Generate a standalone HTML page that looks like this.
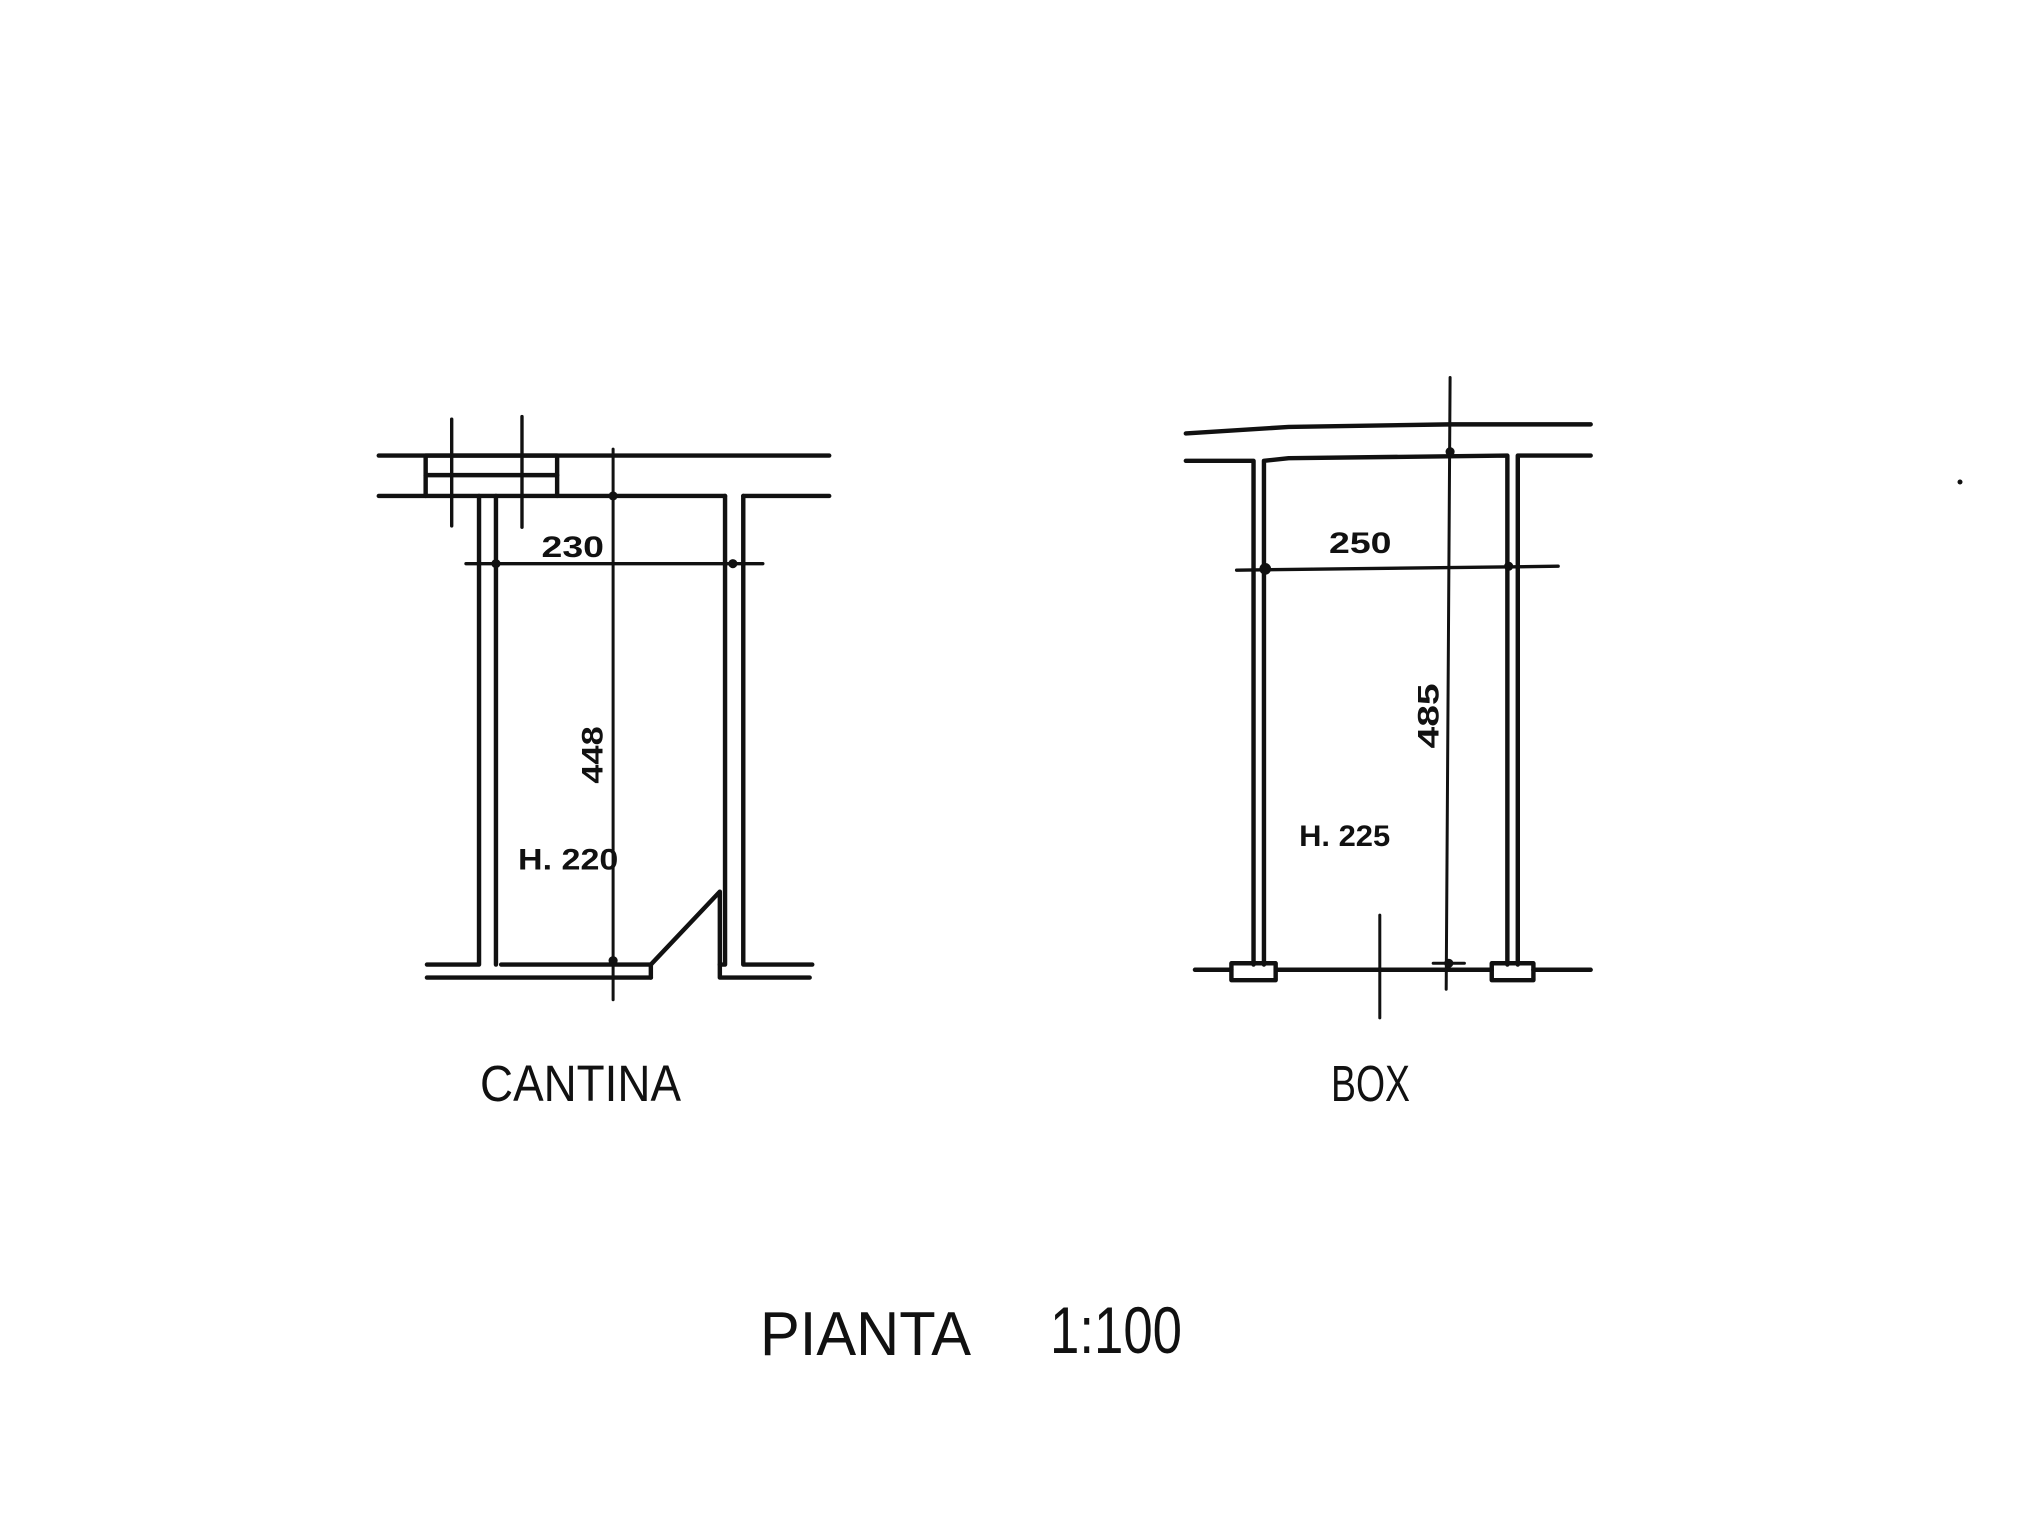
<!DOCTYPE html>
<html><head><meta charset="utf-8"><style>
html,body{margin:0;padding:0;background:#fff;}
svg{display:block;}
text{font-family:"Liberation Sans",sans-serif;fill:#111;}
</style></head><body>
<svg width="2041" height="1535" viewBox="0 0 2041 1535" xmlns="http://www.w3.org/2000/svg">
<g transform="scale(1.3017)">
<g stroke="#111" stroke-width="3.4" fill="none" stroke-linecap="round" stroke-linejoin="round">
<!-- CANTINA -->
<line x1="291" y1="350" x2="637" y2="350"/>
<line x1="291" y1="381" x2="327" y2="381"/>
<line x1="428" y1="381" x2="557" y2="381"/>
<line x1="571" y1="381" x2="637" y2="381"/>
<rect x="327" y="350" width="101" height="31"/>
<line x1="327" y1="365" x2="428" y2="365"/>
<line x1="347" y1="322" x2="347" y2="404" stroke-width="2.6"/>
<line x1="401" y1="320" x2="401" y2="405" stroke-width="2.6"/>
<polyline points="368,381 368,741 328,741"/>
<line x1="381" y1="381" x2="381" y2="741"/>
<line x1="328" y1="751" x2="500" y2="751"/>
<polyline points="385,741 500,741 500,751"/>
<polyline points="500,741 553,685 553,751 622,751"/>
<polyline points="557,381 557,741 553,741"/>
<polyline points="571,381 571,741 624,741"/>
<line x1="471" y1="345" x2="471" y2="768" stroke-width="2.3"/>
<line x1="358" y1="433" x2="586" y2="433" stroke-width="2.6"/>
<!-- BOX -->
<path d="M911,333 Q960,330 990,328 L1114,326 L1222,326"/>
<polyline points="911,354 963,354 963,741"/>
<path d="M971,741 L971,354 L990,352 L1158,350 L1158,741"/>
<polyline points="1166,741 1166,350 1222,350"/>
<line x1="918" y1="745" x2="946" y2="745"/>
<line x1="980" y1="745" x2="1146" y2="745"/>
<line x1="1178" y1="745" x2="1222" y2="745"/>
<rect x="946" y="740" width="34" height="13"/>
<rect x="1146" y="740" width="32" height="13"/>
<line x1="1114" y1="290" x2="1111" y2="760" stroke-width="2.3"/>
<line x1="950" y1="438" x2="1197" y2="435" stroke-width="2.6"/>
<line x1="1101" y1="740" x2="1125" y2="740" stroke-width="2.3"/>
<line x1="1060" y1="703" x2="1060" y2="782" stroke-width="2.3"/>
</g>
<g fill="#111">
<circle cx="381" cy="433" r="3.5"/><circle cx="563" cy="433" r="3.5"/>
<circle cx="471" cy="381" r="3.5"/><circle cx="471" cy="738" r="3.5"/>
<circle cx="972" cy="437" r="4.5"/><circle cx="1159" cy="435" r="3.5"/>
<circle cx="1114" cy="347" r="3.5"/><circle cx="1113" cy="740" r="3.5"/>
</g>
<g font-weight="bold">
<text x="440" y="428" font-size="23" text-anchor="middle" textLength="48" lengthAdjust="spacingAndGlyphs">230</text>
<text x="0" y="0" font-size="23" text-anchor="middle" transform="translate(463,580) rotate(-90)" textLength="44" lengthAdjust="spacingAndGlyphs">448</text>
<text x="398" y="668" font-size="23" textLength="77" lengthAdjust="spacingAndGlyphs">H. 220</text>
<text x="1045" y="425" font-size="23" text-anchor="middle" textLength="48" lengthAdjust="spacingAndGlyphs">250</text>
<text x="0" y="0" font-size="23" text-anchor="middle" transform="translate(1105,550) rotate(-90)" textLength="50" lengthAdjust="spacingAndGlyphs">485</text>
<text x="998" y="650" font-size="23" textLength="70" lengthAdjust="spacingAndGlyphs">H. 225</text>
</g>
</g>
<circle cx="1960" cy="482" r="2.5" fill="#111"/>
<text x="480" y="1101" font-size="51" textLength="201" lengthAdjust="spacingAndGlyphs">CANTINA</text>
<text x="1331" y="1101" font-size="51" textLength="79" lengthAdjust="spacingAndGlyphs">BOX</text>
<text x="760" y="1355" font-size="62" textLength="211" lengthAdjust="spacingAndGlyphs">PIANTA</text>
<text x="1050" y="1353" font-size="66" textLength="132" lengthAdjust="spacingAndGlyphs">1:100</text>
</svg>
</body></html>
